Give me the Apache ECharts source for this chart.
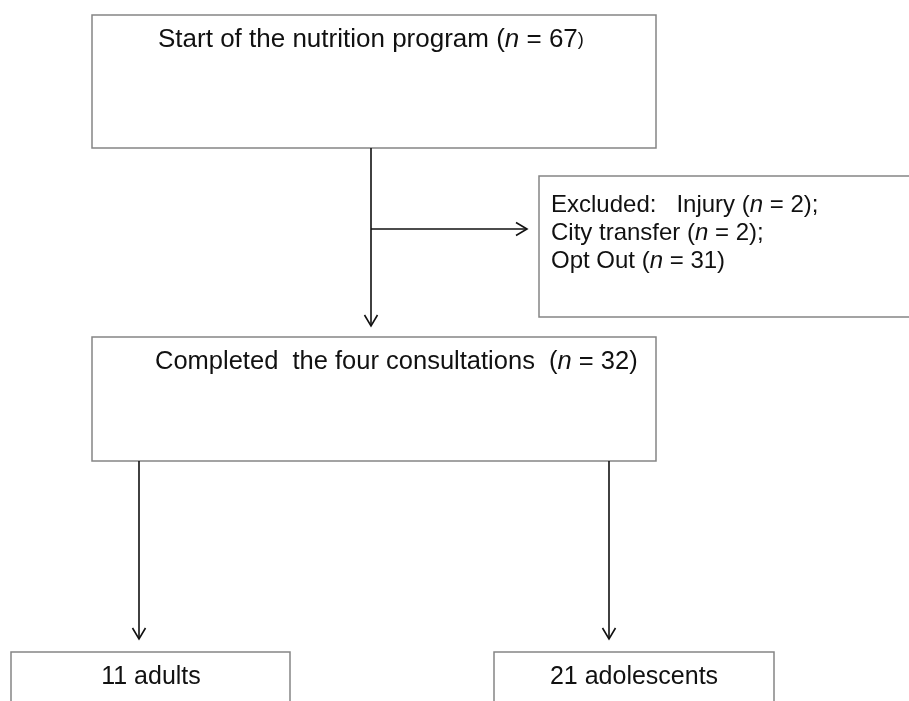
<!DOCTYPE html>
<html>
<head>
<meta charset="utf-8">
<script src="https://cdn.jsdelivr.net/npm/echarts@6/dist/echarts.min.js"></script>
<style>
  html, body { margin: 0; padding: 0; background: #fff; }
  #flowChart { width: 909px; height: 701px; }
</style>
</head>
<body>
<div id="flowChart"></div>
<script>
// participant counts
const totalStart = 67;
const excludedNames = ['Injury', 'City transfer', 'Opt Out'];
const excludedCounts = [2, 2, 31];
const completedCount = 32;
const groupNames = ['adults', 'adolescents'];
const groupCounts = [11, 21];

// layout, in axis units (axes span the 909 x 701 page)
const boxes = [
  [92, 15, 656, 148],    // start
  [539, 176, 930, 317],  // excluded (runs off the right edge)
  [92, 337, 656, 461],   // completed
  [11, 652, 290, 730],   // adults (runs off the bottom)
  [494, 652, 774, 730]   // adolescents
];
const arrows = [
  [371, 148, 371, 326],
  [371, 229, 527, 229],
  [139, 461, 139, 639],
  [609, 461, 609, 639]
];

const FONT = '"Liberation Sans", Arial, sans-serif';
const nItalic = '{i|n}';

const labels = [
  { x: 158, y: 40, size: 26, align: 'left', text: 'Start of the nutrition program (' + nItalic + ' = ' + totalStart + '{s|)}' },
  { x: 551, y: 205, size: 24, align: 'left', text: 'Excluded:   ' + excludedNames[0] + ' (' + nItalic + ' = ' + excludedCounts[0] + ');' },
  { x: 551, y: 233, size: 24, align: 'left', text: excludedNames[1] + ' (' + nItalic + ' = ' + excludedCounts[1] + ');' },
  { x: 551, y: 261, size: 24, align: 'left', text: excludedNames[2] + ' (' + nItalic + ' = ' + excludedCounts[2] + ')' },
  { x: 155, y: 362, size: 25.5, align: 'left', text: 'Completed  the four consultations  (' + nItalic + ' = ' + completedCount + ')' },
  { x: 151, y: 677, size: 25, align: 'center', text: groupCounts[0] + ' ' + groupNames[0] },
  { x: 634, y: 677, size: 25, align: 'center', text: groupCounts[1] + ' ' + groupNames[1] }
];

const myChart = echarts.init(document.getElementById('flowChart'));

myChart.setOption({
  animation: false,
  backgroundColor: '#fff',
  grid: { left: 0, right: 0, top: 0, bottom: 0 },
  xAxis: { type: 'value', min: 0, max: 909, show: false },
  yAxis: { type: 'value', min: 0, max: 701, inverse: true, show: false },
  series: [
    {
      // boxes
      type: 'custom',
      clip: false,
      data: boxes,
      renderItem: function (params, api) {
        const p0 = api.coord([api.value(0), api.value(1)]);
        const p1 = api.coord([api.value(2), api.value(3)]);
        return {
          type: 'rect',
          shape: { x: p0[0], y: p0[1], width: p1[0] - p0[0], height: p1[1] - p0[1] },
          style: { fill: '#fff', stroke: '#858585', lineWidth: 1.5 }
        };
      }
    },
    {
      // arrows with open heads
      type: 'custom',
      clip: false,
      data: arrows,
      renderItem: function (params, api) {
        const a = api.coord([api.value(0), api.value(1)]);
        const b = api.coord([api.value(2), api.value(3)]);
        const len = Math.hypot(b[0] - a[0], b[1] - a[1]);
        const ux = (b[0] - a[0]) / len;
        const uy = (b[1] - a[1]) / len;
        const headL = 11;
        const headW = 6.5;
        const bx = b[0] - ux * headL;
        const by = b[1] - uy * headL;
        const lineStyle = { stroke: '#111', lineWidth: 1.6, fill: null };
        return {
          type: 'group',
          children: [
            { type: 'line', shape: { x1: a[0], y1: a[1], x2: b[0], y2: b[1] }, style: lineStyle },
            {
              type: 'polyline',
              shape: { points: [[bx - uy * headW, by + ux * headW], [b[0], b[1]], [bx + uy * headW, by - ux * headW]] },
              style: lineStyle
            }
          ]
        };
      }
    },
    {
      // box texts
      type: 'custom',
      clip: false,
      data: labels.map(function (l) { return [l.x, l.y]; }),
      renderItem: function (params, api) {
        const l = labels[params.dataIndex];
        const p = api.coord([api.value(0), api.value(1)]);
        return {
          type: 'text',
          x: p[0],
          y: p[1],
          style: {
            text: l.text,
            fill: '#111',
            fontSize: l.size,
            fontFamily: FONT,
            align: l.align,
            verticalAlign: 'middle',
            rich: {
              i: { fontSize: l.size, fontFamily: FONT, fontStyle: 'italic', fill: '#111' },
              s: { fontSize: l.size * 0.7, fontFamily: FONT, fill: '#111' }
            }
          }
        };
      }
    }
  ]
});

window.addEventListener('resize', function () {
  myChart.resize();
});
</script>
</body>
</html>
